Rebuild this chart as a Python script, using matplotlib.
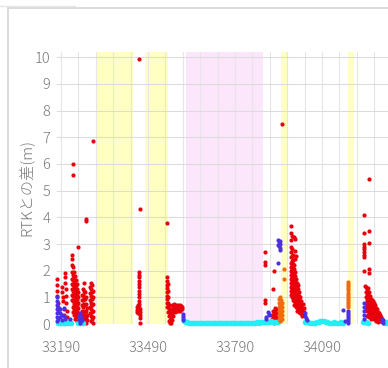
import matplotlib
matplotlib.use("Agg")
import matplotlib.pyplot as plt
from matplotlib.lines import Line2D

plt.rcParams['font.family'] = ['Noto Sans CJK JP', 'DejaVu Sans']

# ---- data ----
x_ticks = [33190, 33490, 33790, 34090]
x_tick_labels = ["33190", "33490", "33790", "34090"]
y_ticks = [0, 1, 2, 3, 4, 5, 6, 7, 8, 9, 10]
y_label = "RTKとの差(m)"

yellow_spans = [(33311, 33438), (33480, 33559), (33949, 33974), (34179, 34201)]
pink_spans = [(33620, 33885)]

# red series: x positions and the values observed at each x
red_cols_x = [33176, 33177, 33179, 33180, 33193, 33195, 33197, 33199, 33201,
              33204, 33205, 33206, 33207, 33208, 33209, 33210,
              33228, 33231, 33232, 33235, 33238, 33242, 33245, 33249,
              33262, 33266, 33269, 33273, 33275, 33276, 33280,
              33290, 33293, 33297, 33300,
              33452, 33456, 33459, 33460, 33462,
              33555, 33559, 33562, 33566, 33569, 33573, 33576, 33580, 33583,
              33587, 33590, 33593, 33597, 33600, 33604, 33607,
              33895, 33918, 33921, 33924, 33928, 33931, 33935, 33953,
              33983, 33986, 33990, 33993, 33997, 34000, 34004, 34007, 34011,
              34014, 34017, 34021, 34024, 34028,
              34235, 34240, 34242, 34245, 34249, 34252, 34255, 34259, 34262,
              34266, 34269, 34273, 34276, 34280, 34283, 34286, 34290, 34293]
red_cols_y = [
    [1.70, 1.45, 1.25], [1.05], [0.80], [0.60], [1.40, 1.20], [1.00], [0.85], [0.55], [0.35],
    [1.92, 1.55], [1.78], [1.30], [1.05], [0.80], [0.50], [0.25],
    [2.60, 2.45, 2.20, 1.95, 1.70, 1.50, 1.30, 1.10, 0.90],
    [2.15, 1.85, 1.65, 1.45, 1.25, 1.05, 0.85, 0.65, 0.45],
    [6.00, 5.58],
    [1.95, 1.75, 1.55, 1.35, 1.15, 0.95, 0.75, 0.55, 0.35],
    [1.80, 1.60, 1.40, 1.20, 1.00, 0.80, 0.60, 0.40, 0.20],
    [1.65, 1.45, 1.25, 1.05, 0.85, 0.65, 0.45, 0.25],
    [1.50, 1.30, 1.10, 0.90, 0.70, 0.50, 0.30, 0.10],
    [2.90, 1.20, 1.00, 0.80, 0.60, 0.40],
    [1.10, 0.90, 0.70, 0.50, 0.30],
    [1.30, 1.10, 0.90, 0.65, 0.40, 0.20],
    [1.55, 1.25, 1.00, 0.75, 0.50, 0.30, 0.10],
    [1.20, 0.95, 0.70, 0.45, 0.20],
    [3.95, 3.85],
    [1.00, 0.75, 0.50, 0.25, 0.05],
    [0.60, 0.35, 0.15],
    [1.40, 1.15, 0.90, 0.65, 0.40],
    [1.55, 1.30, 1.05, 0.80, 0.55, 0.30, 0.10],
    [1.45, 1.20, 0.95, 0.70, 0.45, 0.20],
    [6.88, 1.25, 1.00, 0.75, 0.50, 0.25, 0.05],
    [0.62, 0.52, 0.45],
    [0.70, 0.62, 0.55, 0.48, 0.40],
    [1.95, 1.85, 1.75, 1.62, 1.50, 1.38, 1.25, 1.12, 1.00, 0.88, 0.76, 0.64],
    [9.94],
    [4.30, 0.58, 0.45, 0.32, 0.22, 0.02],
    [3.77, 1.77, 1.62, 1.48, 1.34, 1.20, 1.06, 0.92, 0.78, 0.64],
    [1.50, 1.25, 1.00, 0.80, 0.62, 0.45],
    [0.70, 0.50, 0.30, 0.10],
    [0.55, 0.35, 0.15, 0.02],
    [0.40, 0.20, 0.05],
    [0.70, 0.55, 0.35, 0.15],
    [0.60, 0.45, 0.30],
    [0.75, 0.62, 0.50],
    [0.68, 0.55, 0.45],
    [0.72, 0.60, 0.48],
    [0.65, 0.55],
    [0.70, 0.58, 0.48],
    [0.62, 0.52],
    [0.72, 0.60, 0.50],
    [0.68, 0.58],
    [0.65, 0.55],
    [2.71, 2.33, 2.20, 0.90, 0.80],
    [0.35, 0.20, 0.08],
    [1.30, 0.50, 0.30, 0.12],
    [2.00, 0.45, 0.25, 0.05],
    [0.60, 0.40, 0.20],
    [0.55, 0.35, 0.15],
    [0.45, 0.25],
    [7.49],
    [3.68, 3.40, 3.15, 2.90, 2.70, 2.50, 2.30, 2.15, 2.00, 1.85, 1.70, 1.55, 1.40, 1.25, 1.10],
    [3.30, 2.80, 2.55, 2.35, 2.20, 2.05, 1.90, 1.75, 1.60, 1.45, 1.30, 1.15, 1.00],
    [2.60, 2.40, 2.25, 2.10, 1.95, 1.80, 1.65, 1.50, 1.35, 1.20, 1.05, 0.90],
    [3.25, 2.20, 2.05, 1.90, 1.75, 1.60, 1.45, 1.30, 1.15, 1.00, 0.85, 0.70],
    [3.20, 2.75, 2.45, 1.95, 1.80, 1.65, 1.50, 1.35, 1.20, 1.05, 0.90, 0.75],
    [2.55, 1.70, 1.55, 1.40, 1.25, 1.10, 0.95, 0.80, 0.65],
    [1.55, 1.40, 1.25, 1.10, 0.95, 0.80, 0.65, 0.50],
    [1.45, 1.30, 1.15, 1.00, 0.85, 0.70, 0.55],
    [1.20, 1.05, 0.90, 0.75, 0.60, 0.45],
    [1.00, 0.85, 0.70, 0.55, 0.40],
    [0.85, 0.70, 0.55, 0.40],
    [0.60, 0.45, 0.30],
    [0.75, 0.55, 0.40],
    [0.60, 0.45],
    [4.07, 3.40, 3.00, 2.90, 2.80, 2.70, 2.60, 2.50, 1.97],
    [1.42],
    [1.40, 1.20, 1.00, 0.80, 0.60],
    [1.30, 1.10, 0.90, 0.70, 0.50, 0.30],
    [1.35, 1.15, 0.95, 0.75, 0.55, 0.35],
    [5.43, 3.49, 3.05, 2.05, 1.92, 1.20, 1.00, 0.85, 0.65, 0.45, 0.25],
    [1.05, 0.90, 0.75, 0.60, 0.45, 0.30],
    [0.95, 0.80, 0.65, 0.50, 0.35, 0.20],
    [0.90, 0.78, 0.66, 0.54, 0.42, 0.30],
    [0.85, 0.72, 0.60, 0.48, 0.36],
    [0.80, 0.68, 0.56, 0.44, 0.32, 0.20],
    [0.70, 0.58, 0.46, 0.34, 0.22],
    [0.60, 0.48, 0.36, 0.24, 0.12],
    [0.55, 0.42, 0.30, 0.18],
    [0.45, 0.32, 0.20, 0.08],
    [0.40, 0.28, 0.15],
    [0.35, 0.22, 0.10],
    [0.25, 0.12],
]

blue_cols_x = [33176, 33180, 33187, 33193, 33200, 33204, 33221, 33252, 33256, 33259, 33262,
               33611, 33897, 33904, 33907, 33938, 33940, 33942, 33944, 33946,
               34031, 34035, 34038, 34164, 34169, 34181, 34235, 34297, 34300]
blue_cols_y = [
    [1.00, 0.85, 0.70, 0.55, 0.40, 0.25, 0.10], [0.65, 0.45, 0.20], [0.55, 0.40, 0.25],
    [0.35, 0.15], [0.60, 0.30], [0.20], [0.20], [0.30, 0.15], [0.40, 0.20, 0.05],
    [0.25, 0.10], [0.15],
    [0.37, 0.30, 0.22, 0.15], [0.25, 0.20], [0.45], [0.38, 0.32], [2.30],
    [3.15, 2.98], [3.08, 2.92], [3.00, 2.85], [3.10, 2.78],
    [0.40, 0.30], [0.22], [0.15], [0.52], [0.10],
    [0.50, 0.42, 0.35, 0.28, 0.20, 0.12, 0.05],
    [0.80, 0.65, 0.50, 0.35, 0.20], [0.20, 0.10], [0.15, 0.05],
]

orange_cols_x = [33942, 33945, 33948, 33952, 33959, 34181]
orange_cols_y = [
    [0.95, 0.80, 0.65, 0.50, 0.35, 0.20],
    [1.00, 0.85, 0.70, 0.55, 0.40, 0.25, 0.10],
    [0.90, 0.75, 0.60, 0.45, 0.30, 0.15],
    [0.80, 0.65, 0.50, 0.35, 0.20],
    [2.05, 1.69],
    [1.58, 1.50, 1.42, 1.34, 1.26, 1.18, 1.10, 1.02, 0.94, 0.86, 0.78, 0.70, 0.62],
]

cyan_x = [33180, 33185, 33190, 33195, 33200, 33205, 33210, 33215, 33220, 33225,
          33250, 33255, 33260, 33265,
          33614, 33620, 33626, 33632, 33638, 33644, 33650, 33656, 33662, 33668,
          33674, 33680, 33686, 33692, 33698, 33704, 33710, 33716, 33722, 33728,
          33734, 33740, 33746, 33752, 33758, 33764, 33770, 33776, 33782, 33788,
          33794, 33800, 33806, 33812, 33818, 33824, 33830, 33836, 33842, 33848,
          33854, 33860, 33866, 33872, 33878, 33884, 33890, 33896, 33902, 33908,
          33914, 33920, 33926, 33932, 33938,
          34031, 34037, 34043, 34049, 34055, 34061, 34067, 34073, 34079, 34085,
          34091, 34097, 34103, 34109, 34115, 34121, 34127, 34133, 34139, 34145,
          34151, 34157, 34163,
          34231, 34237, 34243, 34249, 34306, 34312, 34318]
cyan_y = [0.05, 0.03, 0.04, 0.02, 0.05, 0.03, 0.04, 0.06, 0.03, 0.04,
          0.05, 0.03, 0.06, 0.04,
          0.10, 0.08, 0.06, 0.05, 0.05, 0.04, 0.04, 0.03, 0.03, 0.04,
          0.03, 0.02, 0.03, 0.02, 0.02, 0.03, 0.02, 0.02, 0.03, 0.02,
          0.02, 0.03, 0.02, 0.02, 0.02, 0.03, 0.02, 0.03, 0.03, 0.02,
          0.03, 0.03, 0.04, 0.03, 0.04, 0.04, 0.03, 0.04, 0.05, 0.04,
          0.05, 0.05, 0.06, 0.05, 0.06, 0.07, 0.08, 0.06, 0.07, 0.09,
          0.10, 0.08, 0.07, 0.09, 0.06,
          0.08, 0.07, 0.06, 0.05, 0.05, 0.04, 0.05, 0.06, 0.08, 0.10,
          0.12, 0.10, 0.08, 0.07, 0.05, 0.04, 0.05, 0.06, 0.05, 0.04,
          0.05, 0.06, 0.05,
          0.06, 0.08, 0.07, 0.05, 0.05, 0.06, 0.05]


def flatten(cols_x, cols_y):
    xs, ys = [], []
    for x, vals in zip(cols_x, cols_y):
        for v in vals:
            xs.append(x)
            ys.append(v)
    return xs, ys


red_x, red_y = flatten(red_cols_x, red_cols_y)
blue_x, blue_y = flatten(blue_cols_x, blue_cols_y)
orange_x, orange_y = flatten(orange_cols_x, orange_cols_y)

# ---- figure ----
W, H = 388, 368
fig = plt.figure(figsize=(W / 100, H / 100), dpi=100)
fig.patch.set_facecolor('white')

x_lo, x_hi = 33176, 34330
ax_w_px = (x_hi - x_lo) * 0.28986
ax = fig.add_axes([57 / W, 44 / H, ax_w_px / W, 272 / H])
ax.set_xlim(x_lo, x_hi)
ax.set_ylim(0, 10.2)

for a, b in yellow_spans:
    ax.axvspan(a, b, color='#ffffc2', zorder=0.2, lw=0)
for a, b in pink_spans:
    ax.axvspan(a, b, color='#fbe6fb', zorder=0.2, lw=0)

ax.set_xticks(x_ticks)
ax.set_xticklabels(x_tick_labels)
ax.set_xticks(list(range(33190, 34330, 60)), minor=True)
ax.set_yticks(y_ticks)
ax.grid(True, which='both', axis='x', color='#e6e6e6', lw=0.8, zorder=0.5)
ax.grid(True, which='major', axis='y', color='#dcdcdc', lw=0.8, zorder=0.5)
ax.set_axisbelow(False)
for gl in ax.get_xgridlines() + ax.get_ygridlines():
    gl.set_zorder(0.5)
for s in ax.spines.values():
    s.set_visible(False)
ax.tick_params(which='both', length=0)
ax.tick_params(axis='x', pad=12, labelsize=10.5, labelcolor='#787878')
ax.tick_params(axis='y', pad=5, labelsize=10.5, labelcolor='#787878')
for lbl in ax.get_xticklabels() + ax.get_yticklabels():
    lbl.set_fontweight('light')

ms = 9
ax.scatter(red_x, red_y, s=ms, color='#e8000b', lw=0, zorder=3, clip_on=False)
ax.scatter(blue_x, blue_y, s=ms, color='#4d30e0', lw=0, zorder=3.2, clip_on=False)
ax.scatter(cyan_x, cyan_y, s=16, color='#22eef4', lw=0, zorder=3.1, clip_on=False)
ax.scatter(orange_x, orange_y, s=ms, color='#f06a10', lw=0, zorder=3.3, clip_on=False)

fig.text(27 / W, 1 - 187 / H, y_label, rotation=90, ha='center', va='center',
         fontsize=11, color='#787878', fontweight='light')

# outer chart frame
fig.add_artist(Line2D([8 / W, 1], [1 - 8 / H, 1 - 8 / H], color='#d6d6d6', lw=1.2))
fig.add_artist(Line2D([8 / W, 8 / W], [0, 1 - 8 / H], color='#d6d6d6', lw=1.2))
fig.add_artist(Line2D([0, 75 / W], [1 - 6 / H, 1 - 6 / H], color='#e6e6e6', lw=1.0))

fig.savefig('out.png', dpi=100)
